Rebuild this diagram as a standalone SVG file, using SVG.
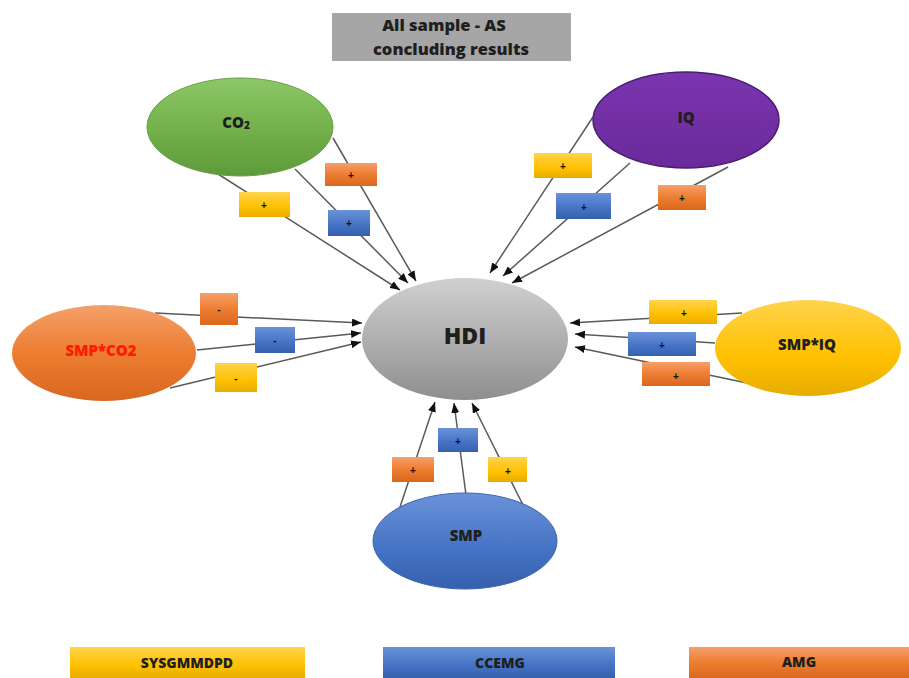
<svg xmlns="http://www.w3.org/2000/svg" width="909" height="678" viewBox="0 0 909 678">
<defs>
<linearGradient id="gGray" x1="0" y1="0" x2="0" y2="1"><stop offset="0" stop-color="#d0d0d0"/><stop offset="0.6" stop-color="#a9a9a9"/><stop offset="1" stop-color="#8e8e8e"/></linearGradient>
<linearGradient id="gGreen" x1="0" y1="0" x2="0" y2="1"><stop offset="0" stop-color="#8cc866"/><stop offset="0.6" stop-color="#70ad47"/><stop offset="1" stop-color="#5e9a3a"/></linearGradient>
<linearGradient id="gPurple" x1="0" y1="0" x2="0" y2="1"><stop offset="0" stop-color="#7a35b0"/><stop offset="1" stop-color="#6a2a9a"/></linearGradient>
<linearGradient id="gOrange" x1="0" y1="0" x2="0" y2="1"><stop offset="0" stop-color="#f4a06a"/><stop offset="0.5" stop-color="#ed7d31"/><stop offset="1" stop-color="#d9681f"/></linearGradient>
<linearGradient id="gGold" x1="0" y1="0" x2="0" y2="1"><stop offset="0" stop-color="#ffd44d"/><stop offset="0.6" stop-color="#ffc000"/><stop offset="1" stop-color="#e6ac00"/></linearGradient>
<linearGradient id="gBlue" x1="0" y1="0" x2="0" y2="1"><stop offset="0" stop-color="#6a92d8"/><stop offset="0.6" stop-color="#4472c4"/><stop offset="1" stop-color="#3560ad"/></linearGradient>
<marker id="arr" markerUnits="userSpaceOnUse" markerWidth="10" markerHeight="8" refX="10" refY="4" orient="auto"><path d="M0,0 L10,4 L0,8 z" fill="#111"/></marker>
<style>
.lbl{font-family:"Open Sans","Liberation Sans",sans-serif;font-weight:800;fill:#1f1f1f;text-anchor:middle;dominant-baseline:central}
.conn line{stroke:#5a5a5a;stroke-width:1.5;marker-end:url(#arr)}
.sign{font-family:"Liberation Sans",sans-serif;font-weight:bold;font-size:10px;fill:#111;text-anchor:middle;dominant-baseline:central}
.eb{stroke:none}
</style>
</defs>
<rect width="909" height="678" fill="#ffffff"/>

<g id="title">
<rect x="332" y="13" width="239" height="48" fill="#a6a6a6"/>
<text class="lbl" x="444" y="24" font-size="16.5">All sample - AS</text>
<text class="lbl" x="451" y="48" font-size="16.5">concluding results</text>
</g>

<g id="connectors" class="conn">
<line x1="218" y1="174" x2="400" y2="290"/>
<line x1="295" y1="169" x2="408" y2="283"/>
<line x1="333" y1="138" x2="416" y2="281"/>
<line x1="593" y1="117" x2="490" y2="273"/>
<line x1="630" y1="163" x2="503" y2="276"/>
<line x1="728" y1="167" x2="512" y2="283"/>
<line x1="155" y1="313" x2="362" y2="323"/>
<line x1="197" y1="350" x2="361" y2="333"/>
<line x1="170" y1="388" x2="361" y2="342"/>
<line x1="742" y1="313" x2="570" y2="323"/>
<line x1="715" y1="343" x2="575" y2="334"/>
<line x1="747" y1="383" x2="575" y2="347"/>
<line x1="400" y1="507" x2="435" y2="402"/>
<line x1="466" y1="495" x2="454" y2="403"/>
<line x1="523" y1="505" x2="472" y2="403"/>
</g>

<g id="node-co2">
<ellipse cx="240" cy="127" rx="93" ry="49" fill="url(#gGreen)" stroke="#6a9e48" stroke-width="1"/>
<text class="lbl" x="236" y="122" font-size="15">CO<tspan font-size="10" dy="3">2</tspan></text>
</g>
<g id="node-iq">
<ellipse cx="686" cy="120" rx="93" ry="48" fill="url(#gPurple)" stroke="#4b1d70" stroke-width="1.5"/>
<text class="lbl" x="686" y="117" font-size="15">IQ</text>
</g>
<g id="node-hdi">
<ellipse cx="465" cy="339" rx="103" ry="61" fill="url(#gGray)"/>
<text class="lbl" x="465" y="335" font-size="23">HDI</text>
</g>
<g id="node-smpco2">
<ellipse cx="104" cy="353" rx="92" ry="48" fill="url(#gOrange)"/>
<text class="lbl" x="101" y="350" font-size="15" style="fill:#ff1a00">SMP*CO<tspan font-size="15">2</tspan></text>
</g>
<g id="node-smpiq">
<ellipse cx="808" cy="348" rx="93" ry="48" fill="url(#gGold)"/>
<text class="lbl" x="807" y="344" font-size="15">SMP*IQ</text>
</g>
<g id="node-smp">
<ellipse cx="465" cy="541" rx="92" ry="48" fill="url(#gBlue)" stroke="#3a64ad" stroke-width="1"/>
<text class="lbl" x="466" y="535" font-size="15">SMP</text>
</g>

<g id="edge-labels">
<rect class="eb" x="239" y="192" width="51" height="25" fill="url(#gGold)"/><text class="sign" x="264" y="205">+</text>
<rect class="eb" x="328" y="210" width="42" height="26" fill="url(#gBlue)"/><text class="sign" x="349" y="223">+</text>
<rect class="eb" x="325" y="163" width="52" height="23" fill="url(#gOrange)"/><text class="sign" x="351" y="175">+</text>

<rect class="eb" x="534" y="153" width="58" height="25" fill="url(#gGold)"/><text class="sign" x="563" y="166">+</text>
<rect class="eb" x="556" y="193" width="55" height="26" fill="url(#gBlue)"/><text class="sign" x="584" y="207">+</text>
<rect class="eb" x="658" y="185" width="48" height="25" fill="url(#gOrange)"/><text class="sign" x="682" y="198">+</text>

<rect class="eb" x="200" y="293" width="38" height="32" fill="url(#gOrange)"/><text class="sign" x="219" y="309">-</text>
<rect class="eb" x="255" y="327" width="40" height="26" fill="url(#gBlue)"/><text class="sign" x="275" y="340">-</text>
<rect class="eb" x="215" y="363" width="42" height="29" fill="url(#gGold)"/><text class="sign" x="236" y="378">-</text>

<rect class="eb" x="649" y="300" width="68" height="24" fill="url(#gGold)"/><text class="sign" x="684" y="313">+</text>
<rect class="eb" x="628" y="332" width="68" height="24" fill="url(#gBlue)"/><text class="sign" x="662" y="345">+</text>
<rect class="eb" x="642" y="362" width="68" height="24" fill="url(#gOrange)"/><text class="sign" x="676" y="376">+</text>

<rect class="eb" x="392" y="457" width="42" height="25" fill="url(#gOrange)"/><text class="sign" x="413" y="470">+</text>
<rect class="eb" x="438" y="428" width="40" height="24" fill="url(#gBlue)"/><text class="sign" x="458" y="441">+</text>
<rect class="eb" x="488" y="457" width="39" height="25" fill="url(#gGold)"/><text class="sign" x="508" y="471">+</text>
</g>

<g id="legend">
<rect x="70" y="647" width="235" height="31" fill="url(#gGold)"/>
<text class="lbl" x="187" y="662" font-size="14">SYSGMMDPD</text>
<rect x="383" y="647" width="232" height="31" fill="url(#gBlue)"/>
<text class="lbl" x="500" y="662" font-size="14">CCEMG</text>
<rect x="689" y="647" width="220" height="31" fill="url(#gOrange)"/>
<text class="lbl" x="799" y="661" font-size="14">AMG</text>
</g>
</svg>
